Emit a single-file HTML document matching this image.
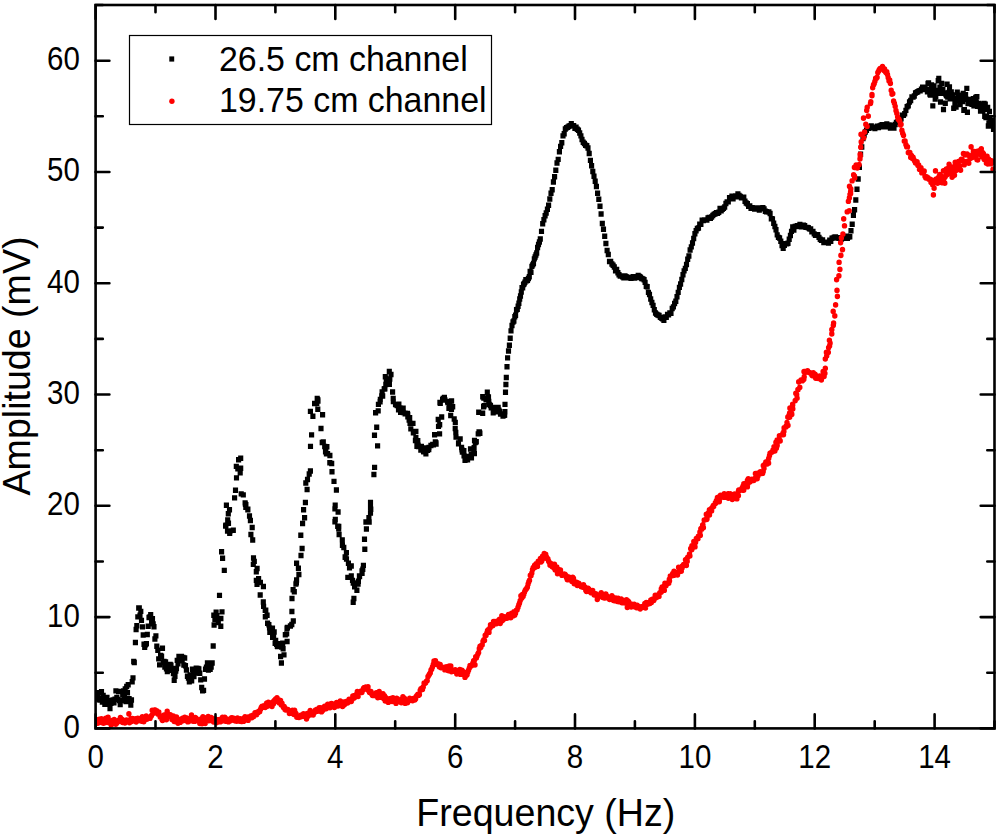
<!DOCTYPE html>
<html><head><meta charset="utf-8"><style>
html,body{margin:0;padding:0;background:#fff;}
body{width:1000px;height:838px;overflow:hidden;}
svg{display:block;font-family:"Liberation Sans",sans-serif;}
</style></head><body>
<svg width="1000" height="838" viewBox="0 0 1000 838">
<rect x="0" y="0" width="1000" height="838" fill="#fff"/>
<clipPath id="c"><rect x="95.6" y="5" width="898.9" height="723.4"/></clipPath>
<g clip-path="url(#c)">
<g fill="none" stroke="#000" stroke-width="5.15" stroke-linecap="square"><path d="M96.5 697.9v.3M97.3 696.7v.3M98.2 692.6v.3M99.0 699.1v.3M99.8 699.8v.3M100.7 698.4v.3M101.5 691.5v.3M102.3 701.8v.3M103.2 695.4v.3M104.0 700.5v.3M104.8 704.0v.3M105.5 703.8v.3M106.2 702.0v.3M107.0 697.3v.3M107.8 703.5v.3M108.5 700.5v.3M109.2 703.0v.3M110.0 708.3v.3M111.0 703.2v.3M111.9 701.9v.3M112.9 699.8v.3M114.0 702.5v.3M115.0 699.0v.3M115.9 690.7v.3M116.8 697.4v.3M117.7 699.2v.3M118.6 691.3v.3M119.4 700.4v.3M120.2 704.3v.3M121.0 700.3v.3M121.8 700.4v.3M122.7 694.6v.3M123.6 690.9v.3M124.4 697.7v.3M125.2 688.8v.3M126.0 701.3v.3M126.7 686.3v.3M127.5 692.5v.3M128.2 684.6v.3M129.1 698.5v.3M130.0 700.8v.3M130.8 704.9v.3M131.5 699.8v.3M132.2 681.6v.3M133.0 677.7v.3M133.7 661.4v.3M134.3 662.4v.3M135.4 642.3v.3M136.1 629.4v.3M136.8 625.5v.3M137.8 616.7v.3M138.7 607.9v.3M139.3 607.7v.3M140.0 615.0v.3M140.8 611.2v.3M141.5 620.2v.3M142.5 626.7v.3M143.2 634.9v.3M144.0 644.1v.3M144.7 647.1v.3M145.4 644.5v.3M146.4 643.5v.3M147.3 634.4v.3M148.2 626.1v.3M149.0 617.3v.3M149.8 616.8v.3M150.7 614.6v.3M151.6 622.1v.3M152.5 618.6v.3M153.2 623.7v.3M154.0 626.5v.3M154.9 638.8v.3M155.9 635.7v.3M156.8 646.0v.3M157.8 650.1v.3M158.7 658.7v.3M159.6 664.7v.3M160.6 655.4v.3M161.6 656.0v.3M162.5 648.1v.3M163.3 661.9v.3M164.1 661.4v.3M164.8 666.8v.3M165.6 661.8v.3M166.4 668.5v.3M167.3 671.4v.3M168.3 670.0v.3M169.2 667.3v.3M170.2 664.4v.3M171.0 665.0v.3M171.8 669.4v.3M172.6 668.4v.3M173.4 673.4v.3M174.2 680.1v.3M175.0 676.2v.3M175.8 670.9v.3M176.5 668.3v.3M177.2 660.2v.3M178.0 663.7v.3M178.9 656.3v.3M179.8 660.6v.3M180.7 658.8v.3M181.5 656.2v.3M182.2 660.3v.3M183.0 657.2v.3M183.8 664.8v.3M184.7 657.9v.3M185.5 665.6v.3M186.4 669.9v.3M187.4 676.0v.3M188.4 677.8v.3M189.3 681.6v.3M190.1 674.7v.3M190.9 677.0v.3M191.7 680.6v.3M192.4 669.1v.3M193.2 670.1v.3M194.0 676.3v.3M194.8 672.9v.3M195.5 670.8v.3M196.2 668.0v.3M197.0 670.3v.3M197.9 668.2v.3M198.9 668.9v.3M199.8 673.0v.3M200.7 679.7v.3M201.7 687.3v.3M202.6 690.7v.3M203.6 690.2v.3M204.5 678.8v.3M205.5 669.0v.3M206.4 667.0v.3M207.4 662.8v.3M208.4 669.8v.3M209.3 665.9v.3M210.2 669.1v.3M211.2 666.8v.3M212.2 662.8v.3M213.2 645.8v.3M214.1 624.9v.3M214.9 619.1v.3M216.1 612.1v.3M213.8 615.0v.3M216.6 617.3v.3M216.8 615.5v.3M218.3 622.4v.3M220.8 626.1v.3M220.9 618.3v.3M222.0 611.7v.3M219.5 595.2v.3M224.3 570.2v.3M222.6 558.1v.3M221.6 551.5v.3M227.5 530.8v.3M225.9 525.0v.3M225.6 525.9v.3M227.7 520.2v.3M226.4 505.0v.3M228.3 513.6v.3M227.7 519.8v.3M228.5 523.1v.3M230.0 530.9v.3M229.7 533.0v.3M233.3 530.1v.3M229.5 509.6v.3M234.6 497.7v.3M235.5 490.0v.3M236.5 477.7v.3M237.8 468.6v.3M236.3 466.2v.3M240.7 458.1v.3M238.6 459.6v.3M240.7 468.0v.3M240.2 472.5v.3M243.3 494.7v.3M241.2 493.7v.3M245.1 502.7v.3M245.8 507.2v.3M245.9 504.5v.3M245.4 504.0v.3M247.9 509.0v.3M247.8 509.6v.3M249.5 515.8v.3M250.4 520.4v.3M252.2 527.3v.3M250.9 534.4v.3M252.7 539.8v.3M253.5 557.8v.3M254.3 561.2v.3M253.3 564.2v.3M257.1 568.3v.3M256.3 571.5v.3M256.3 580.2v.3M258.6 578.6v.3M260.4 582.3v.3M257.0 584.2v.3M263.4 586.4v.3M260.2 594.9v.3M263.3 601.8v.3M263.6 606.2v.3M265.2 610.1v.3M265.8 610.1v.3M267.1 615.1v.3M265.3 616.5v.3M267.6 623.1v.3M268.9 624.6v.3M269.5 627.7v.3M272.5 628.1v.3M269.8 632.1v.3M274.2 631.9v.3M272.8 632.9v.3M272.6 637.1v.3M273.6 635.7v.3M275.7 640.3v.3M275.1 643.0v.3M276.6 644.0v.3M276.8 643.8v.3M278.5 644.0v.3M277.6 643.5v.3M277.3 646.1v.3M277.5 646.3v.3M281.6 646.8v.3M281.4 662.8v.3M280.6 656.4v.3M284.0 654.7v.3M283.1 648.5v.3M282.7 643.1v.3M287.1 641.3v.3M286.7 633.7v.3M285.3 634.5v.3M287.0 628.0v.3M287.4 627.4v.3M290.4 625.9v.3M291.8 624.4v.3M293.3 620.8v.3M291.9 611.3v.3M292.0 598.3v.3M294.3 591.5v.3M293.1 589.5v.3M295.9 583.8v.3M296.4 582.6v.3M296.6 579.8v.3M298.9 574.4v.3M298.4 568.1v.3M296.6 563.0v.3M301.0 555.4v.3M302.1 548.3v.3M300.8 535.1v.3M302.6 523.4v.3M304.6 517.5v.3M303.6 509.6v.3M305.4 502.3v.3M307.1 489.4v.3M305.8 482.9v.3M307.5 479.3v.3M309.2 473.9v.3M310.4 470.8v.3M310.5 446.2v.3M311.6 434.7v.3M312.9 416.0v.3M310.4 411.2v.3M314.6 403.4v.3M318.0 400.8v.3M317.5 399.6v.3M317.8 399.5v.3M317.2 398.4v.3M316.8 403.2v.3M317.8 409.0v.3M322.6 414.6v.3M321.0 428.3v.3M322.2 442.4v.3M323.3 441.7v.3M324.7 446.3v.3M326.9 446.5v.3M325.5 451.6v.3M325.8 450.5v.3M326.4 453.5v.3M327.6 453.5v.3M329.9 455.3v.3M329.8 462.6v.3M331.7 463.4v.3M332.0 471.5v.3M334.0 481.2v.3M336.4 489.8v.3M335.2 505.0v.3M334.9 508.7v.3M338.1 511.8v.3M334.9 521.5v.3M335.3 519.3v.3M337.7 526.0v.3M338.8 526.4v.3M338.7 528.7v.3M339.1 534.4v.3M342.3 539.7v.3M342.4 545.1v.3M343.8 547.3v.3M346.4 552.5v.3M345.1 556.8v.3M345.2 557.2v.3M346.5 558.8v.3M348.4 563.1v.3M351.3 565.9v.3M349.5 567.7v.3M347.8 577.2v.3M351.3 575.8v.3M352.5 580.2v.3M353.2 582.9v.3M354.6 586.7v.3M353.2 602.0v.3M353.9 598.3v.3M356.9 590.0v.3M357.7 583.9v.3M358.1 583.8v.3M358.4 581.1v.3M359.4 575.7v.3M359.6 576.3v.3M362.1 573.1v.3M362.8 569.1v.3M362.0 570.7v.3M363.4 565.2v.3M364.8 549.0v.3M364.5 539.1v.3M366.4 528.8v.3M369.2 521.8v.3M365.9 521.9v.3M368.9 517.5v.3M370.5 512.9v.3M370.5 507.0v.3M370.8 509.0v.3M370.5 502.2v.3M373.9 474.4v.3M374.6 467.2v.3M377.6 445.7v.3M374.5 435.0v.3M376.7 427.1v.3M375.6 412.6v.3M378.2 410.7v.3M378.4 404.2v.3M380.1 401.5v.3M380.3 399.2v.3M382.7 395.8v.3M381.7 395.7v.3M382.1 391.8v.3M384.9 388.6v.3M384.2 388.9v.3M385.8 384.3v.3M386.3 380.1v.3M387.6 379.4v.3M385.3 376.6v.3M389.3 371.4v.3M391.0 374.4v.3M389.8 378.8v.3M389.4 384.0v.3M392.6 391.8v.3M393.2 398.2v.3M393.3 401.3v.3M397.2 405.3v.3M398.9 404.1v.3M396.6 404.6v.3M398.7 406.3v.3M395.5 404.4v.3M400.0 407.7v.3M403.2 408.1v.3M400.9 408.3v.3M401.9 410.2v.3M400.6 412.2v.3M398.5 409.7v.3M403.3 412.4v.3M407.4 413.3v.3M405.1 413.0v.3M405.1 413.5v.3M407.8 414.4v.3M407.8 416.7v.3M409.7 417.6v.3M409.1 419.8v.3M410.0 423.1v.3M413.0 423.2v.3M410.8 428.7v.3M413.3 432.7v.3M415.9 431.4v.3M415.9 437.5v.3M415.4 440.3v.3M417.8 440.5v.3M416.9 443.8v.3M418.2 445.1v.3M418.4 446.4v.3M416.9 446.1v.3M421.4 446.3v.3M420.8 449.9v.3M424.1 447.9v.3M423.8 448.0v.3M423.7 451.6v.3M423.5 451.2v.3M425.1 450.0v.3M427.5 450.2v.3M425.9 453.5v.3M428.2 448.4v.3M429.0 447.2v.3M428.8 449.4v.3M428.0 449.0v.3M428.8 449.0v.3M430.9 445.4v.3M433.5 444.7v.3M432.7 444.3v.3M436.1 443.8v.3M435.3 441.8v.3M435.9 442.5v.3M439.6 433.7v.3M434.6 434.6v.3M438.5 426.2v.3M439.7 424.6v.3M438.2 419.4v.3M441.7 416.8v.3M440.3 403.0v.3M439.9 402.3v.3M442.6 399.5v.3M443.1 398.3v.3M444.4 397.3v.3M444.9 399.9v.3M447.6 401.2v.3M449.7 404.2v.3M447.8 402.3v.3M451.6 400.8v.3M449.9 404.8v.3M448.9 408.0v.3M451.5 409.1v.3M452.7 406.6v.3M450.7 415.4v.3M454.2 418.8v.3M455.3 422.2v.3M455.2 428.3v.3M455.8 432.4v.3M456.0 436.9v.3M460.2 438.8v.3M458.5 442.9v.3M458.5 443.5v.3M461.6 447.4v.3M461.9 449.6v.3M463.9 450.6v.3M462.3 451.8v.3M464.0 455.7v.3M464.1 455.6v.3M466.5 457.4v.3M465.0 460.2v.3M467.6 459.5v.3M469.2 456.4v.3M468.6 456.8v.3M471.5 457.7v.3M471.2 454.5v.3M474.4 453.4v.3M473.8 450.9v.3M474.1 447.5v.3M470.5 448.9v.3M475.3 442.3v.3M474.5 440.4v.3M476.3 441.6v.3M478.2 433.7v.3M479.4 431.8v.3M479.0 431.8v.3M479.9 433.0v.3M478.7 412.0v.3M482.7 413.0v.3M483.6 406.6v.3M484.1 405.5v.3M483.8 397.9v.3M486.0 399.7v.3M482.7 396.5v.3M487.3 392.1v.3M486.4 398.6v.3M488.5 396.7v.3M488.8 401.3v.3M489.3 404.4v.3M490.5 405.4v.3M491.2 407.6v.3M494.4 407.2v.3M493.2 412.6v.3M496.0 411.7v.3M495.3 409.0v.3M496.9 410.6v.3M494.3 408.4v.3M498.2 410.1v.3M498.2 407.4v.3M498.9 410.1v.3M499.4 411.2v.3M500.5 413.9v.3M503.0 415.8v.3M504.1 415.2v.3M504.7 414.9v.3M504.9 411.6v.3M505.0 404.2v.3M505.5 392.0v.3M505.9 384.3v.3M506.3 377.4v.3M507.0 366.5v.3M507.6 357.7v.3M508.5 350.8v.3M509.4 345.1v.3M510.2 338.0v.3M511.0 330.7v.3M512.0 325.3v.3M513.0 321.9v.3M513.9 320.9v.3M514.8 316.5v.3M515.6 315.1v.3M516.5 309.6v.3M517.3 309.2v.3M518.1 306.0v.3M518.9 303.1v.3M519.7 298.8v.3M520.5 295.8v.3M521.3 291.9v.3M522.0 287.5v.3M522.7 287.5v.3M523.5 284.4v.3M524.2 283.6v.3M524.9 282.0v.3M525.8 279.5v.3M526.6 280.6v.3M527.5 280.2v.3M528.4 278.3v.3M529.3 276.6v.3M530.1 271.2v.3M531.0 272.1v.3M531.9 266.2v.3M532.7 264.7v.3M533.5 263.3v.3M534.3 258.7v.3M535.1 256.8v.3M535.9 254.9v.3M536.7 252.8v.3M537.6 247.3v.3M538.5 244.3v.3M539.4 241.8v.3M540.3 238.8v.3M541.5 231.2v.3M542.7 223.6v.3M543.9 219.6v.3M545.1 215.5v.3M546.2 212.8v.3M547.4 209.1v.3M548.6 205.0v.3M549.8 198.8v.3M551.0 193.0v.3M552.2 189.6v.3M553.4 181.8v.3M554.6 176.5v.3M555.8 170.1v.3M557.0 162.9v.3M558.2 159.2v.3M559.4 151.6v.3M560.6 146.2v.3M561.8 142.6v.3M563.0 135.7v.3M564.2 133.5v.3M565.3 128.8v.3M566.5 127.6v.3M567.7 127.0v.3M568.9 126.0v.3M570.1 125.6v.3M571.3 123.6v.3M572.5 125.5v.3M573.7 125.5v.3M574.9 128.1v.3M576.1 127.1v.3M577.3 129.0v.3M578.5 130.0v.3M579.7 132.8v.3M580.9 135.7v.3M582.0 139.3v.3M583.2 142.1v.3M584.4 143.4v.3M585.6 145.0v.3M586.8 145.5v.3M588.0 147.8v.3M589.2 153.4v.3M590.4 160.2v.3M591.6 165.6v.3M592.8 171.4v.3M594.0 176.1v.3M595.2 181.0v.3M596.4 186.3v.3M597.6 193.1v.3M598.8 199.1v.3M600.0 206.0v.3M601.1 213.9v.3M602.3 223.4v.3M603.5 229.0v.3M604.7 236.0v.3M605.9 243.3v.3M607.1 250.4v.3M608.3 254.3v.3M609.5 261.4v.3M610.7 261.4v.3M611.9 263.8v.3M613.1 265.1v.3M614.3 266.9v.3M615.5 270.5v.3M616.7 269.4v.3M617.9 272.5v.3M619.0 274.6v.3M620.2 275.9v.3M621.4 275.7v.3M622.6 276.6v.3M623.8 277.6v.3M625.0 275.7v.3M626.2 276.5v.3M627.4 277.6v.3M628.6 277.5v.3M629.8 277.3v.3M631.0 278.1v.3M632.2 277.0v.3M633.4 276.5v.3M634.6 277.9v.3M635.8 277.4v.3M637.0 277.4v.3M638.2 275.4v.3M639.4 276.4v.3M640.5 277.0v.3M641.7 278.3v.3M642.9 278.7v.3M644.1 279.5v.3M645.1 282.2v.3M646.2 286.2v.3M647.2 286.6v.3M648.4 292.2v.3M649.5 294.4v.3M650.7 298.8v.3M651.9 302.4v.3M653.1 305.2v.3M654.3 309.5v.3M655.5 312.9v.3M656.7 314.0v.3M657.9 314.8v.3M659.1 315.4v.3M660.3 317.2v.3M661.5 317.9v.3M662.7 318.7v.3M663.9 320.2v.3M665.1 316.8v.3M666.3 317.1v.3M667.5 314.3v.3M668.6 314.6v.3M669.8 312.9v.3M671.0 313.1v.3M672.2 308.4v.3M673.4 306.7v.3M674.6 303.4v.3M675.8 301.0v.3M677.0 296.6v.3M678.2 292.2v.3M679.4 287.2v.3M680.6 283.8v.3M681.8 279.4v.3M683.0 274.6v.3M684.1 270.7v.3M685.3 268.2v.3M686.5 264.4v.3M687.7 259.1v.3M688.9 255.8v.3M690.1 249.9v.3M691.3 246.7v.3M692.5 242.9v.3M693.7 238.4v.3M694.9 233.5v.3M696.1 230.6v.3M697.3 228.4v.3M698.5 227.9v.3M699.7 224.0v.3M700.9 224.1v.3M702.1 220.1v.3M703.3 220.3v.3M704.5 219.9v.3M705.7 219.9v.3M706.9 219.9v.3M708.0 217.8v.3M709.2 217.4v.3M710.4 218.0v.3M711.6 216.9v.3M712.8 215.4v.3M714.0 214.2v.3M715.2 213.6v.3M716.4 212.5v.3M717.6 213.2v.3M718.8 212.0v.3M720.0 208.2v.3M721.2 210.6v.3M722.3 209.1v.3M723.5 208.1v.3M724.7 206.9v.3M725.9 203.4v.3M727.1 201.7v.3M728.3 201.7v.3M729.5 197.5v.3M730.7 197.9v.3M731.9 196.0v.3M733.1 198.6v.3M734.3 196.2v.3M735.5 195.8v.3M736.7 196.5v.3M737.9 193.9v.3M739.1 195.2v.3M740.3 196.3v.3M741.4 197.6v.3M742.6 197.4v.3M743.8 197.1v.3M745.0 201.0v.3M746.2 202.8v.3M747.4 203.6v.3M748.6 206.0v.3M749.8 205.8v.3M751.0 208.1v.3M752.2 207.6v.3M753.4 207.9v.3M754.6 208.8v.3M755.8 208.8v.3M757.0 207.9v.3M758.1 207.8v.3M759.3 209.8v.3M760.5 208.2v.3M761.7 208.0v.3M762.9 207.6v.3M764.1 208.7v.3M765.3 211.1v.3M766.5 211.5v.3M767.7 211.7v.3M768.9 211.8v.3M770.1 213.4v.3M771.3 218.5v.3M772.5 218.7v.3M773.7 223.0v.3M774.9 226.4v.3M776.0 229.5v.3M777.2 234.7v.3M778.4 237.2v.3M779.6 237.9v.3M780.8 241.1v.3M782.0 245.3v.3M783.2 248.2v.3M784.4 245.1v.3M785.6 243.6v.3M786.8 243.5v.3M788.0 243.0v.3M789.2 239.1v.3M790.4 235.3v.3M791.5 231.2v.3M792.7 226.9v.3M793.9 229.8v.3M795.1 226.3v.3M796.3 226.0v.3M797.5 225.6v.3M798.7 226.0v.3M799.9 224.2v.3M801.1 226.7v.3M802.3 225.0v.3M803.5 225.0v.3M804.7 225.6v.3M805.9 227.2v.3M807.1 227.2v.3M808.3 227.5v.3M809.5 228.7v.3M810.7 228.9v.3M811.8 231.6v.3M813.0 231.4v.3M814.2 233.7v.3M815.4 235.0v.3M816.6 235.0v.3M817.8 234.5v.3M819.0 237.2v.3M820.2 239.0v.3M821.4 240.2v.3M822.6 239.7v.3M823.8 242.3v.3M825.0 242.0v.3M826.1 242.1v.3M827.3 242.1v.3M828.5 242.8v.3M829.7 240.0v.3M830.8 241.0v.3M832.0 238.1v.3M833.1 237.7v.3M834.3 237.0v.3M835.5 236.9v.3M836.7 237.6v.3M837.9 237.8v.3M839.1 238.1v.3M840.3 237.5v.3M841.5 238.8v.3M842.7 237.6v.3M843.9 238.0v.3M845.1 237.5v.3M846.3 236.1v.3M847.4 238.1v.3M848.6 236.9v.3M849.8 236.5v.3M851.0 230.5v.3M852.2 224.1v.3M853.4 215.1v.3M854.6 209.6v.3M855.8 199.9v.3M857.0 189.1v.3M858.2 178.8v.3M859.4 167.0v.3M860.6 154.1v.3M861.8 146.8v.3M863.0 138.3v.3M864.2 134.9v.3M865.3 131.8v.3M866.5 130.1v.3M867.7 128.0v.3M868.9 128.1v.3M870.1 127.0v.3M871.3 125.7v.3M872.5 127.4v.3M873.7 127.2v.3M874.9 128.3v.3M876.1 127.0v.3M877.3 126.1v.3M878.5 127.4v.3M879.7 125.9v.3M880.9 125.3v.3M882.1 124.6v.3M883.2 126.6v.3M884.4 124.6v.3M885.6 124.6v.3M886.8 123.9v.3M888.0 126.7v.3M889.2 124.8v.3M890.4 127.9v.3M891.6 125.4v.3M892.8 125.4v.3M894.0 127.9v.3M895.2 124.4v.3M896.4 122.2v.3M897.6 121.7v.3M898.8 119.9v.3M900.0 119.9v.3M901.1 118.6v.3M902.3 115.0v.3M903.5 115.0v.3M904.7 113.5v.3M905.9 110.2v.3M907.1 106.5v.3M908.3 105.7v.3M909.5 101.9v.3M910.7 100.3v.3M911.9 96.9v.3M913.1 96.8v.3M914.3 95.8v.3M915.5 92.9v.3M916.7 92.2v.3M917.8 91.6v.3M919.0 90.7v.3M920.2 90.6v.3M921.4 89.1v.3M922.6 87.1v.3M923.8 89.4v.3M925.0 87.1v.3M926.2 89.4v.3M927.4 91.5v.3M928.0 83.4v.3M928.6 82.8v.3M929.2 89.3v.3M929.8 93.8v.3M930.4 94.8v.3M931.0 89.6v.3M931.6 84.9v.3M932.2 88.1v.3M932.8 105.7v.3M933.4 93.7v.3M934.0 85.8v.3M934.6 90.9v.3M935.2 98.9v.3M935.8 96.2v.3M936.4 90.4v.3M937.0 91.7v.3M937.6 92.3v.3M938.2 80.6v.3M938.8 78.3v.3M939.4 93.0v.3M939.9 87.0v.3M940.5 101.9v.3M941.1 91.6v.3M941.7 83.4v.3M942.3 89.6v.3M942.9 89.4v.3M943.5 109.3v.3M944.1 93.1v.3M944.7 92.8v.3M945.3 103.0v.3M945.9 94.3v.3M946.5 95.6v.3M947.1 84.1v.3M947.7 96.9v.3M948.3 94.6v.3M948.9 92.3v.3M949.5 86.8v.3M950.1 98.6v.3M950.7 94.8v.3M951.3 91.8v.3M951.9 95.5v.3M952.5 95.1v.3M953.1 94.9v.3M953.7 108.1v.3M954.3 98.4v.3M954.9 103.9v.3M955.5 100.1v.3M956.1 106.8v.3M956.7 100.9v.3M957.3 92.0v.3M957.9 99.7v.3M958.5 95.0v.3M959.0 97.6v.3M959.6 95.8v.3M960.2 104.4v.3M960.8 97.1v.3M961.4 100.3v.3M962.0 100.7v.3M962.6 101.4v.3M963.2 93.4v.3M963.8 110.0v.3M964.4 109.6v.3M965.0 97.0v.3M965.6 94.5v.3M966.2 99.0v.3M966.8 88.2v.3M967.4 112.0v.3M968.0 103.3v.3M968.5 101.3v.3M969.1 99.2v.3M969.7 101.0v.3M970.3 102.0v.3M970.9 100.6v.3M971.5 103.9v.3M972.1 103.0v.3M972.7 104.1v.3M973.3 98.5v.3M973.9 105.5v.3M974.5 100.9v.3M975.1 104.2v.3M975.7 97.4v.3M976.3 102.2v.3M976.9 96.5v.3M977.5 106.1v.3M978.1 104.3v.3M978.7 103.4v.3M979.3 104.0v.3M979.9 106.4v.3M980.5 110.9v.3M981.1 104.3v.3M981.7 110.8v.3M982.3 108.9v.3M982.9 110.8v.3M983.5 105.4v.3M984.1 103.4v.3M984.7 116.0v.3M985.3 104.0v.3M985.9 117.4v.3M986.5 116.4v.3M987.1 109.1v.3M987.7 107.4v.3M988.3 125.9v.3M988.9 123.0v.3M989.4 111.4v.3M990.0 118.4v.3M990.6 124.7v.3M991.2 122.1v.3M991.8 121.2v.3M992.3 123.9v.3M992.9 120.5v.3M993.5 129.2v.3"/></g>
<g fill="none" stroke="#f00" stroke-width="5.4" stroke-linecap="round"><path d="M96.3 719.4v.3M97.0 720.9v.3M97.8 722.9v.3M98.5 722.0v.3M99.2 719.3v.3M99.9 721.1v.3M100.7 720.5v.3M101.4 718.6v.3M102.1 722.5v.3M102.8 721.3v.3M103.5 723.0v.3M104.3 720.1v.3M105.0 722.4v.3M105.8 718.3v.3M106.5 721.6v.3M107.3 721.4v.3M108.1 717.1v.3M108.8 722.5v.3M109.6 722.5v.3M110.4 723.1v.3M111.2 724.8v.3M111.9 721.2v.3M112.7 720.2v.3M113.5 720.6v.3M114.2 719.4v.3M115.0 722.0v.3M115.8 723.9v.3M116.5 723.2v.3M117.3 722.3v.3M118.1 721.4v.3M118.8 720.3v.3M119.6 720.5v.3M120.4 717.5v.3M121.1 720.1v.3M121.9 719.3v.3M122.6 722.2v.3M123.4 720.2v.3M124.2 722.5v.3M124.9 722.8v.3M125.7 720.7v.3M126.5 720.0v.3M127.2 721.5v.3M128.0 720.4v.3M128.8 720.5v.3M129.5 722.4v.3M130.2 721.8v.3M131.0 718.5v.3M131.8 721.3v.3M132.5 718.5v.3M133.2 719.0v.3M134.0 719.9v.3M134.8 720.6v.3M135.5 718.6v.3M136.2 721.7v.3M137.0 720.9v.3M137.8 718.3v.3M138.5 718.9v.3M139.2 719.1v.3M140.0 720.2v.3M140.8 720.8v.3M141.5 720.9v.3M142.3 716.8v.3M143.1 720.0v.3M143.8 721.4v.3M144.6 719.5v.3M145.4 717.1v.3M146.2 716.0v.3M146.9 719.0v.3M147.7 717.7v.3M148.5 717.8v.3M149.2 718.1v.3M150.0 718.1v.3M150.8 716.4v.3M151.5 715.5v.3M152.2 710.1v.3M153.0 711.7v.3M153.8 712.9v.3M154.5 709.9v.3M155.2 709.9v.3M155.9 711.8v.3M156.7 710.8v.3M157.4 711.8v.3M158.1 714.0v.3M158.8 711.9v.3M159.5 715.2v.3M160.3 716.9v.3M161.0 716.1v.3M161.8 718.9v.3M162.5 720.3v.3M163.3 719.4v.3M164.1 714.9v.3M164.9 718.2v.3M165.7 715.7v.3M166.4 719.5v.3M167.2 711.2v.3M168.0 714.5v.3M168.8 715.5v.3M169.6 715.3v.3M170.4 714.8v.3M171.1 716.7v.3M171.9 719.3v.3M172.7 716.8v.3M173.4 716.0v.3M174.2 721.2v.3M175.0 717.8v.3M175.8 721.3v.3M176.5 717.0v.3M177.2 720.6v.3M178.0 722.9v.3M178.8 719.2v.3M179.5 721.9v.3M180.2 722.1v.3M181.0 721.3v.3M181.8 720.8v.3M182.5 718.2v.3M183.2 720.5v.3M184.0 718.7v.3M184.8 717.1v.3M185.5 719.9v.3M186.2 717.8v.3M187.0 719.4v.3M187.8 721.6v.3M188.5 721.5v.3M189.2 719.8v.3M190.0 718.3v.3M190.8 720.1v.3M191.5 715.0v.3M192.3 718.9v.3M193.0 721.0v.3M193.8 720.4v.3M194.5 721.1v.3M195.3 717.4v.3M196.1 718.2v.3M196.8 720.6v.3M197.6 720.5v.3M198.3 720.0v.3M199.1 721.0v.3M199.8 723.2v.3M200.6 719.1v.3M201.4 718.8v.3M202.1 723.5v.3M202.9 716.8v.3M203.6 718.3v.3M204.4 720.4v.3M205.2 723.2v.3M205.9 719.0v.3M206.7 720.9v.3M207.4 717.1v.3M208.2 716.4v.3M208.9 720.4v.3M209.7 720.1v.3M210.5 719.2v.3M211.2 717.5v.3M212.0 720.4v.3M212.7 719.7v.3M213.5 721.7v.3M214.2 719.6v.3M215.0 718.8v.3M215.8 719.8v.3M216.5 722.4v.3M217.2 719.6v.3M218.0 720.7v.3M218.8 720.3v.3M219.5 719.4v.3M220.2 721.6v.3M221.0 721.2v.3M221.8 720.6v.3M222.5 717.2v.3M223.2 720.4v.3M224.0 718.5v.3M224.8 717.1v.3M225.5 721.0v.3M226.2 718.8v.3M227.0 719.1v.3M227.8 719.6v.3M228.5 721.6v.3M229.2 719.1v.3M230.0 719.0v.3M230.8 720.4v.3M231.5 717.7v.3M232.2 719.3v.3M233.0 717.9v.3M233.8 718.3v.3M234.5 719.0v.3M235.2 720.8v.3M236.0 718.4v.3M236.8 720.9v.3M237.5 718.0v.3M238.2 719.0v.3M239.0 718.7v.3M239.8 720.9v.3M240.5 718.7v.3M241.2 721.3v.3M242.0 721.2v.3M242.8 719.7v.3M243.5 721.1v.3M244.2 717.9v.3M245.0 716.6v.3M245.8 718.0v.3M246.5 718.9v.3M247.3 717.1v.3M248.1 720.1v.3M248.8 716.9v.3M249.6 717.3v.3M250.4 717.2v.3M251.2 715.8v.3M251.9 717.4v.3M252.7 715.1v.3M253.5 716.5v.3M254.2 714.9v.3M255.0 712.6v.3M255.8 713.9v.3M256.6 714.4v.3M257.4 711.9v.3M258.1 712.4v.3M258.9 711.3v.3M259.7 711.4v.3M260.5 709.2v.3M261.3 707.3v.3M262.1 706.3v.3M262.9 706.4v.3M263.6 705.8v.3M264.4 707.1v.3M265.2 707.3v.3M265.9 704.4v.3M266.7 702.9v.3M267.5 706.0v.3M268.3 702.2v.3M269.0 704.9v.3M269.8 704.4v.3M270.5 703.8v.3M271.3 704.7v.3M272.0 706.2v.3M272.7 701.9v.3M273.4 703.6v.3M274.2 700.4v.3M274.9 700.1v.3M275.6 698.9v.3M276.3 698.7v.3M277.0 697.6v.3M277.7 701.4v.3M278.4 699.8v.3M279.2 702.8v.3M279.9 700.7v.3M280.6 700.4v.3M281.3 704.8v.3M282.0 703.1v.3M282.7 705.7v.3M283.4 707.3v.3M284.2 706.5v.3M284.9 709.3v.3M285.6 709.8v.3M286.3 709.1v.3M287.1 709.2v.3M287.9 709.5v.3M288.6 710.5v.3M289.4 713.2v.3M290.2 712.9v.3M290.9 712.9v.3M291.7 712.4v.3M292.5 710.2v.3M293.2 711.5v.3M293.9 714.2v.3M294.6 710.1v.3M295.4 712.6v.3M296.1 713.8v.3M296.8 717.0v.3M297.5 715.6v.3M298.2 715.9v.3M299.0 717.2v.3M299.8 716.6v.3M300.5 716.6v.3M301.2 715.0v.3M302.0 716.3v.3M302.8 714.4v.3M303.5 713.8v.3M304.2 716.1v.3M305.0 714.1v.3M305.8 717.0v.3M306.5 718.8v.3M307.2 713.5v.3M308.0 715.9v.3M308.8 714.3v.3M309.5 714.3v.3M310.2 710.4v.3M311.0 714.5v.3M311.8 712.9v.3M312.5 713.6v.3M313.2 714.8v.3M314.0 713.0v.3M314.8 711.7v.3M315.5 710.0v.3M316.2 710.2v.3M317.0 709.1v.3M317.8 710.9v.3M318.5 709.2v.3M319.2 707.8v.3M320.0 708.9v.3M320.8 707.6v.3M321.5 711.6v.3M322.3 710.8v.3M323.1 709.8v.3M323.8 707.6v.3M324.6 706.1v.3M325.4 706.3v.3M326.2 708.4v.3M326.9 705.6v.3M327.7 704.3v.3M328.5 706.9v.3M329.2 704.8v.3M330.0 707.4v.3M330.7 703.8v.3M331.5 703.4v.3M332.2 703.6v.3M332.9 705.7v.3M333.7 706.4v.3M334.4 707.2v.3M335.1 704.6v.3M335.9 703.4v.3M336.6 702.4v.3M337.4 704.7v.3M338.1 705.7v.3M338.8 703.6v.3M339.6 703.5v.3M340.3 701.0v.3M341.0 701.4v.3M341.8 703.8v.3M342.5 706.2v.3M343.2 705.6v.3M344.0 702.0v.3M344.7 704.3v.3M345.4 702.0v.3M346.2 701.5v.3M346.9 701.1v.3M347.6 702.7v.3M348.4 700.4v.3M349.1 699.2v.3M349.9 700.9v.3M350.6 700.2v.3M351.3 701.2v.3M352.1 699.2v.3M352.8 696.0v.3M353.5 695.8v.3M354.3 697.7v.3M355.0 695.8v.3M355.8 695.4v.3M356.5 694.2v.3M357.3 691.4v.3M358.1 696.2v.3M358.8 692.2v.3M359.6 692.7v.3M360.4 692.5v.3M361.2 691.0v.3M361.9 692.3v.3M362.7 690.2v.3M363.5 688.1v.3M364.2 687.4v.3M365.0 688.8v.3M365.8 686.9v.3M366.5 688.9v.3M367.2 688.7v.3M368.0 686.6v.3M368.8 690.6v.3M369.5 692.3v.3M370.2 691.1v.3M371.0 691.5v.3M371.8 693.9v.3M372.5 695.2v.3M373.2 695.2v.3M374.0 694.9v.3M374.8 694.0v.3M375.5 695.4v.3M376.2 692.8v.3M377.0 694.0v.3M377.8 697.5v.3M378.5 695.5v.3M379.2 691.4v.3M380.0 697.0v.3M380.8 695.9v.3M381.5 696.6v.3M382.2 697.1v.3M383.0 693.7v.3M383.8 698.4v.3M384.5 695.8v.3M385.2 700.7v.3M386.0 697.6v.3M386.8 698.6v.3M387.5 700.8v.3M388.3 702.1v.3M389.0 698.9v.3M389.8 699.7v.3M390.6 698.9v.3M391.3 698.3v.3M392.1 701.2v.3M392.9 697.7v.3M393.7 698.3v.3M394.4 699.9v.3M395.2 699.3v.3M396.0 703.1v.3M396.7 698.2v.3M397.5 698.6v.3M398.3 700.3v.3M399.0 699.7v.3M399.8 700.0v.3M400.6 701.8v.3M401.3 702.5v.3M402.1 701.7v.3M402.9 696.8v.3M403.7 699.4v.3M404.4 698.3v.3M405.2 703.1v.3M406.0 702.6v.3M406.7 701.7v.3M407.5 702.5v.3M408.2 701.2v.3M409.0 700.2v.3M409.7 698.2v.3M410.4 699.7v.3M411.2 699.6v.3M411.9 699.1v.3M412.6 700.4v.3M413.4 698.4v.3M414.1 699.2v.3M414.8 699.7v.3M415.6 698.7v.3M416.3 696.1v.3M417.1 695.1v.3M417.9 694.2v.3M418.6 695.1v.3M419.4 694.5v.3M420.2 690.2v.3M420.9 688.8v.3M421.7 688.3v.3M422.5 689.2v.3M423.3 686.6v.3M424.1 682.9v.3M424.9 683.3v.3M425.6 682.8v.3M426.4 681.2v.3M427.2 680.5v.3M428.0 676.5v.3M428.8 675.1v.3M429.5 674.0v.3M430.3 672.8v.3M431.0 670.0v.3M431.8 668.6v.3M432.5 666.8v.3M433.3 664.2v.3M434.0 660.9v.3M434.8 664.0v.3M435.5 660.8v.3M436.3 662.6v.3M437.1 664.1v.3M437.9 663.6v.3M438.6 665.1v.3M439.4 666.6v.3M440.2 664.5v.3M440.9 667.5v.3M441.7 667.3v.3M442.5 667.1v.3M443.2 667.7v.3M444.0 667.8v.3M444.8 669.6v.3M445.5 666.9v.3M446.2 668.6v.3M447.0 666.6v.3M447.8 670.3v.3M448.5 670.5v.3M449.2 665.9v.3M450.0 670.6v.3M450.8 666.0v.3M451.5 671.5v.3M452.2 670.0v.3M453.0 670.0v.3M453.8 670.6v.3M454.5 671.0v.3M455.2 669.7v.3M456.0 672.0v.3M456.8 673.7v.3M457.5 673.2v.3M458.2 672.5v.3M459.0 672.3v.3M459.8 669.4v.3M460.5 674.1v.3M461.2 671.6v.3M462.0 670.2v.3M462.8 674.1v.3M463.5 671.6v.3M464.2 674.2v.3M465.0 677.1v.3M465.7 672.6v.3M466.4 675.2v.3M467.1 674.5v.3M467.9 671.6v.3M468.6 669.9v.3M469.3 668.0v.3M470.0 665.4v.3M470.7 665.6v.3M471.4 665.6v.3M472.1 664.4v.3M472.9 662.9v.3M473.6 660.8v.3M474.3 660.2v.3M475.0 664.7v.3M475.7 656.7v.3M476.4 657.6v.3M477.1 655.6v.3M477.9 653.8v.3M478.6 652.5v.3M479.3 648.4v.3M480.0 646.2v.3M480.8 647.1v.3M481.5 645.3v.3M482.2 644.8v.3M483.0 641.2v.3M483.8 639.8v.3M484.5 640.2v.3M485.2 635.1v.3M486.0 635.2v.3M486.8 633.0v.3M487.5 630.4v.3M488.2 629.7v.3M489.0 632.1v.3M489.8 628.2v.3M490.5 624.6v.3M491.2 626.2v.3M492.0 625.6v.3M492.8 625.5v.3M493.5 621.5v.3M494.2 623.3v.3M495.0 621.5v.3M495.8 622.4v.3M496.5 623.4v.3M497.2 622.0v.3M498.0 620.9v.3M498.8 619.9v.3M499.5 619.1v.3M500.2 623.2v.3M501.0 621.5v.3M501.8 615.8v.3M502.5 620.1v.3M503.2 619.4v.3M504.0 618.7v.3M504.8 616.6v.3M505.5 617.7v.3M506.2 616.6v.3M507.0 618.0v.3M507.8 616.9v.3M508.5 614.4v.3M509.2 614.7v.3M510.0 616.3v.3M510.8 617.4v.3M511.6 613.3v.3M512.4 615.2v.3M513.1 615.6v.3M513.9 611.6v.3M514.7 614.9v.3M515.5 613.1v.3M516.3 610.1v.3M517.1 609.8v.3M518.0 607.2v.3M518.8 604.8v.3M519.5 603.0v.3M520.2 600.5v.3M520.9 595.6v.3M521.7 598.0v.3M522.4 594.5v.3M523.1 596.2v.3M523.8 594.2v.3M524.5 591.9v.3M525.2 590.3v.3M525.9 589.3v.3M526.7 588.3v.3M527.4 586.9v.3M528.1 583.9v.3M528.8 581.8v.3M529.5 580.2v.3M530.3 575.3v.3M531.0 575.4v.3M531.8 572.9v.3M532.5 569.5v.3M533.2 567.5v.3M533.9 567.8v.3M534.6 565.3v.3M535.4 566.9v.3M536.1 563.8v.3M536.8 565.5v.3M537.5 566.1v.3M538.2 561.2v.3M538.9 561.7v.3M539.6 561.2v.3M540.4 558.5v.3M541.1 561.7v.3M541.8 560.8v.3M542.5 556.1v.3M543.3 558.2v.3M544.2 553.4v.3M545.0 554.4v.3M545.7 554.1v.3M546.4 556.7v.3M547.1 558.4v.3M547.9 558.8v.3M548.6 560.9v.3M549.3 562.3v.3M550.0 565.0v.3M550.8 563.5v.3M551.5 563.7v.3M552.2 566.5v.3M553.0 564.4v.3M553.8 567.8v.3M554.5 564.3v.3M555.2 569.7v.3M556.0 568.0v.3M556.8 567.0v.3M557.5 573.4v.3M558.2 569.2v.3M559.0 569.7v.3M559.8 572.2v.3M560.5 570.0v.3M561.2 573.7v.3M562.0 575.1v.3M562.8 574.7v.3M563.5 574.8v.3M564.2 573.9v.3M565.0 574.3v.3M565.8 575.3v.3M566.5 577.4v.3M567.3 579.4v.3M568.1 579.4v.3M568.8 576.9v.3M569.6 577.7v.3M570.4 579.1v.3M571.2 579.3v.3M571.9 581.1v.3M572.7 577.3v.3M573.5 578.3v.3M574.2 583.5v.3M575.0 582.0v.3M575.8 583.1v.3M576.5 582.3v.3M577.3 585.3v.3M578.1 584.5v.3M578.8 583.2v.3M579.6 584.4v.3M580.4 585.5v.3M581.2 586.4v.3M581.9 586.4v.3M582.7 587.0v.3M583.5 584.6v.3M584.2 586.8v.3M585.0 587.0v.3M585.8 590.1v.3M586.5 591.3v.3M587.3 588.5v.3M588.1 588.1v.3M588.8 588.9v.3M589.6 591.5v.3M590.4 591.2v.3M591.2 592.6v.3M591.9 591.4v.3M592.7 590.5v.3M593.5 593.0v.3M594.2 594.7v.3M595.0 593.4v.3M595.8 593.6v.3M596.5 594.6v.3M597.3 599.2v.3M598.1 596.6v.3M598.8 594.7v.3M599.6 595.4v.3M600.4 596.3v.3M601.2 592.7v.3M601.9 594.6v.3M602.7 597.2v.3M603.5 596.3v.3M604.2 597.7v.3M605.0 597.7v.3M605.8 594.0v.3M606.5 595.4v.3M607.3 597.4v.3M608.1 596.9v.3M608.8 597.9v.3M609.6 599.2v.3M610.4 597.9v.3M611.2 597.5v.3M611.9 595.6v.3M612.7 596.9v.3M613.5 600.3v.3M614.2 600.4v.3M615.0 600.1v.3M615.8 598.0v.3M616.5 598.7v.3M617.3 601.3v.3M618.1 598.3v.3M618.8 601.4v.3M619.6 600.8v.3M620.4 601.2v.3M621.2 598.9v.3M621.9 602.5v.3M622.7 602.5v.3M623.5 600.3v.3M624.2 602.6v.3M625.0 602.6v.3M625.8 602.9v.3M626.5 599.7v.3M627.3 607.2v.3M628.1 600.9v.3M628.8 601.9v.3M629.6 604.8v.3M630.4 605.5v.3M631.2 606.7v.3M631.9 604.1v.3M632.7 606.3v.3M633.5 605.1v.3M634.2 604.2v.3M635.0 606.7v.3M635.8 607.0v.3M636.5 607.4v.3M637.2 605.2v.3M638.0 607.6v.3M638.8 607.8v.3M639.5 607.4v.3M640.2 608.7v.3M641.0 606.7v.3M641.8 607.4v.3M642.5 607.0v.3M643.2 606.2v.3M644.0 606.5v.3M644.8 603.4v.3M645.5 607.7v.3M646.2 602.4v.3M647.0 604.3v.3M647.8 603.0v.3M648.5 603.1v.3M649.2 603.4v.3M650.0 603.3v.3M650.8 600.0v.3M651.5 602.2v.3M652.2 599.2v.3M653.0 600.4v.3M653.8 600.2v.3M654.5 598.8v.3M655.2 595.3v.3M656.0 597.4v.3M656.8 596.4v.3M657.5 596.8v.3M658.2 594.8v.3M659.0 596.1v.3M659.8 592.6v.3M661.2 592.0v.3M661.4 590.0v.3M662.1 586.9v.3M661.3 588.6v.3M664.6 586.7v.3M662.8 588.8v.3M664.3 590.1v.3M666.0 585.5v.3M664.9 583.1v.3M668.4 582.5v.3M666.5 583.8v.3M668.8 583.0v.3M669.5 580.6v.3M669.3 579.2v.3M670.3 576.0v.3M672.3 575.5v.3M674.0 573.0v.3M672.7 573.4v.3M674.4 574.9v.3M673.7 572.8v.3M674.0 571.3v.3M677.3 574.1v.3M677.5 574.7v.3M678.5 571.9v.3M678.3 572.3v.3M681.3 570.9v.3M678.6 567.2v.3M681.4 567.3v.3M681.1 569.5v.3M682.1 567.7v.3M682.3 566.0v.3M683.6 564.5v.3M686.4 565.2v.3M685.5 559.6v.3M686.6 560.9v.3M687.2 561.1v.3M686.2 559.3v.3M689.5 554.0v.3M687.7 557.1v.3M689.9 555.8v.3M690.9 548.6v.3M691.8 549.4v.3M690.7 548.4v.3M691.9 545.7v.3M692.2 548.2v.3M695.6 542.3v.3M695.0 546.6v.3M693.8 541.5v.3M696.3 538.4v.3M695.4 541.5v.3M696.9 538.1v.3M698.3 536.2v.3M698.0 538.4v.3M700.3 535.1v.3M699.9 531.9v.3M701.8 528.9v.3M700.8 528.7v.3M701.3 528.2v.3M702.6 525.0v.3M703.4 527.5v.3M702.9 524.6v.3M706.8 519.3v.3M704.2 520.0v.3M707.0 518.6v.3M706.3 514.3v.3M707.0 515.6v.3M709.5 514.7v.3M708.9 512.3v.3M709.4 509.8v.3M711.0 508.6v.3M712.4 507.2v.3M711.6 510.6v.3M713.7 506.1v.3M713.3 505.5v.3M715.3 502.7v.3M715.5 503.3v.3M716.4 500.5v.3M716.3 502.3v.3M719.3 501.5v.3M718.6 497.0v.3M717.4 497.4v.3M720.0 498.3v.3M719.1 498.1v.3M720.5 495.2v.3M720.9 496.8v.3M724.2 493.8v.3M723.1 494.9v.3M723.4 495.3v.3M724.5 496.2v.3M724.4 497.1v.3M728.1 493.8v.3M727.7 496.0v.3M728.3 498.0v.3M727.0 496.2v.3M730.2 493.7v.3M730.6 497.2v.3M728.6 493.8v.3M730.3 494.9v.3M731.2 496.9v.3M732.3 499.3v.3M734.4 496.1v.3M733.4 497.7v.3M736.9 498.6v.3M735.5 494.6v.3M734.6 493.9v.3M737.9 495.7v.3M738.4 495.4v.3M738.7 489.9v.3M738.4 491.1v.3M741.0 489.5v.3M742.9 489.9v.3M739.9 490.3v.3M743.7 490.0v.3M742.1 487.9v.3M742.7 489.9v.3M742.9 486.3v.3M743.8 483.7v.3M747.4 486.6v.3M745.7 483.5v.3M748.1 483.3v.3M747.4 480.3v.3M749.9 481.7v.3M750.4 481.3v.3M748.3 478.6v.3M750.6 480.4v.3M751.9 479.1v.3M752.2 479.4v.3M753.8 480.3v.3M755.1 478.2v.3M755.6 478.4v.3M755.4 473.4v.3M757.2 478.4v.3M758.0 475.7v.3M757.6 473.1v.3M760.2 472.3v.3M761.6 473.2v.3M762.5 472.6v.3M760.3 471.8v.3M762.6 473.1v.3M763.2 471.5v.3M764.0 468.3v.3M763.3 465.5v.3M764.7 464.3v.3M765.8 461.9v.3M768.6 462.9v.3M767.3 463.7v.3M767.8 460.6v.3M768.7 458.3v.3M769.5 455.5v.3M770.7 452.7v.3M770.0 453.3v.3M772.3 451.8v.3M773.0 450.0v.3M774.9 450.7v.3M774.0 446.8v.3M776.4 448.0v.3M776.4 446.3v.3M775.9 442.2v.3M776.9 445.9v.3M777.2 445.2v.3M777.1 440.0v.3M779.6 440.0v.3M780.2 440.7v.3M779.4 435.7v.3M782.5 434.5v.3M783.5 434.4v.3M782.9 433.2v.3M783.9 431.3v.3M786.1 426.8v.3M784.1 427.8v.3M786.1 426.0v.3M788.0 425.2v.3M787.8 417.0v.3M787.0 422.4v.3M789.0 415.3v.3M789.7 417.0v.3M789.6 412.9v.3M791.6 413.0v.3M791.8 414.3v.3M789.9 407.9v.3M792.8 408.7v.3M792.7 404.9v.3M792.6 404.3v.3M795.2 400.5v.3M797.1 397.9v.3M796.7 394.4v.3M795.8 393.1v.3M798.1 389.4v.3M797.9 389.4v.3M799.8 387.3v.3M798.7 381.7v.3M801.0 379.9v.3M802.3 380.6v.3M801.8 380.1v.3M803.8 379.1v.3M804.2 376.7v.3M804.8 372.5v.3M804.0 371.4v.3M806.0 371.1v.3M806.4 371.8v.3M807.6 370.6v.3M806.8 371.3v.3M810.5 372.9v.3M808.8 372.3v.3M812.3 375.4v.3M811.2 373.0v.3M815.1 374.1v.3M813.9 374.2v.3M811.9 375.0v.3M813.3 372.8v.3M815.3 375.5v.3M815.7 378.0v.3M816.7 375.9v.3M819.7 375.9v.3M819.6 376.4v.3M818.2 378.3v.3M819.2 377.6v.3M820.4 377.0v.3M820.5 377.1v.3M821.4 379.8v.3M824.1 376.3v.3M824.1 374.0v.3M824.9 373.1v.3M823.1 371.5v.3M825.3 368.3v.3M825.3 358.8v.3M826.7 355.8v.3M826.4 352.1v.3M828.3 352.1v.3M828.6 347.5v.3M829.6 345.7v.3M830.1 343.0v.3M829.4 340.2v.3M831.8 333.7v.3M831.8 329.5v.3M833.3 325.2v.3M833.6 323.0v.3M834.8 315.8v.3M833.2 311.1v.3M835.6 304.7v.3M837.4 296.2v.3M837.0 290.1v.3M836.6 279.4v.3M838.9 275.7v.3M839.9 269.3v.3M839.1 262.1v.3M840.9 255.3v.3M842.5 249.5v.3M840.6 242.5v.3M841.4 237.6v.3M842.9 233.9v.3M844.5 225.6v.3M843.7 218.8v.3M847.2 211.6v.3M849.2 210.6v.3M848.4 201.1v.3M849.4 197.8v.3M850.0 194.1v.3M850.6 193.5v.3M850.6 191.5v.3M850.8 188.8v.3M849.5 186.1v.3M852.1 180.6v.3M854.7 177.7v.3M854.5 176.0v.3M853.6 174.7v.3M857.3 167.8v.3M854.4 167.3v.3M856.1 164.9v.3M859.1 164.4v.3M860.0 158.8v.3M860.3 155.9v.3M860.1 154.2v.3M860.7 147.0v.3M861.2 141.7v.3M863.8 137.6v.3M861.0 134.2v.3M864.6 131.9v.3M867.1 126.2v.3M865.8 124.3v.3M863.5 118.0v.3M868.3 115.9v.3M866.7 110.2v.3M867.2 107.1v.3M870.5 103.2v.3M870.8 101.6v.3M872.0 95.5v.3M872.0 94.5v.3M872.7 87.5v.3M873.5 84.6v.3M874.2 83.5v.3M874.9 81.1v.3M875.6 78.3v.3M876.3 78.3v.3M877.1 77.2v.3M877.8 72.4v.3M878.5 71.2v.3M879.3 69.4v.3M880.1 68.4v.3M880.9 68.1v.3M881.7 68.6v.3M882.5 66.5v.3M883.2 68.0v.3M883.9 70.3v.3M884.6 69.0v.3M885.4 71.7v.3M886.1 72.5v.3M886.8 71.7v.3M887.5 74.4v.3M888.2 77.5v.3M889.0 80.7v.3M889.7 80.0v.3M890.4 83.3v.3M891.2 90.3v.3M892.0 94.0v.3M892.8 93.5v.3M893.6 101.0v.3M894.4 103.1v.3M895.2 106.2v.3M896.0 110.4v.3M896.8 113.1v.3M897.6 116.8v.3M898.3 119.1v.3M899.0 119.1v.3M899.7 121.0v.3M900.4 124.8v.3M901.1 124.3v.3M901.9 130.3v.3M902.7 133.3v.3M903.5 135.1v.3M904.3 141.0v.3M905.1 140.9v.3M905.9 144.4v.3M906.7 146.6v.3M907.5 146.6v.3M908.3 152.4v.3M909.1 152.5v.3M909.9 152.4v.3M910.7 157.2v.3M911.5 155.5v.3M912.3 158.3v.3M913.1 157.3v.3M913.9 159.4v.3M914.7 161.0v.3M915.5 162.8v.3M916.3 162.0v.3M917.1 161.6v.3M917.9 165.3v.3M918.7 165.0v.3M919.5 169.1v.3M920.2 168.1v.3M921.0 167.8v.3M921.8 172.6v.3M922.6 171.4v.3M923.4 172.6v.3M924.2 170.9v.3M925.0 176.2v.3M925.8 177.8v.3M926.6 176.7v.3M927.4 177.4v.3M928.1 177.7v.3M928.8 178.9v.3M929.6 179.3v.3M930.3 179.2v.3M931.0 182.3v.3M931.8 179.9v.3M932.6 184.5v.3M933.4 194.7v.3M934.1 187.9v.3M934.8 180.6v.3M935.5 170.8v.3M936.2 178.9v.3M936.9 180.1v.3M937.6 182.9v.3M938.3 179.8v.3M939.1 176.2v.3M939.8 174.5v.3M940.5 181.4v.3M941.2 181.2v.3M941.9 182.5v.3M942.7 176.6v.3M943.4 170.8v.3M944.1 178.3v.3M944.8 183.0v.3M945.5 176.2v.3M946.3 169.0v.3M947.0 174.5v.3M947.7 173.0v.3M948.4 168.3v.3M949.1 164.3v.3M949.9 166.4v.3M950.6 172.9v.3M951.3 173.0v.3M952.1 177.0v.3M952.9 168.7v.3M953.7 166.8v.3M954.5 175.0v.3M955.2 162.2v.3M956.0 170.2v.3M956.8 162.8v.3M957.6 167.2v.3M958.4 161.5v.3M959.1 166.4v.3M959.8 165.6v.3M960.6 169.9v.3M961.3 159.3v.3M962.0 159.8v.3M962.7 160.5v.3M963.4 153.5v.3M964.2 164.6v.3M964.9 154.8v.3M965.6 153.9v.3M966.4 161.5v.3M967.2 154.0v.3M968.0 154.9v.3M968.8 163.0v.3M969.5 156.4v.3M970.3 158.3v.3M971.1 146.8v.3M971.9 157.5v.3M972.7 154.5v.3M973.4 151.3v.3M974.1 156.8v.3M974.9 155.5v.3M975.6 157.0v.3M976.3 151.4v.3M977.0 159.5v.3M977.7 159.8v.3M978.5 151.0v.3M979.2 152.6v.3M979.9 154.1v.3M980.6 154.1v.3M981.3 148.6v.3M982.1 156.7v.3M982.8 152.7v.3M983.5 153.7v.3M984.2 159.3v.3M984.9 156.4v.3M985.7 160.1v.3M986.4 162.9v.3M987.1 156.2v.3M987.8 163.8v.3M988.6 158.9v.3M989.3 160.2v.3M990.0 163.1v.3M990.8 163.6v.3M991.5 160.6v.3M992.3 162.4v.3M993.0 169.1v.3M128.9 713.8v.3"/></g>
</g>
<rect x="95.6" y="5" width="898.9" height="723.4" fill="none" stroke="#000" stroke-width="2.6"/>
<path d="M95.6 728.4v-14.0M95.6 5v14.0M155.5 728.4v-7.2M155.5 5v7.2M215.5 728.4v-14.0M215.5 5v14.0M275.4 728.4v-7.2M275.4 5v7.2M335.3 728.4v-14.0M335.3 5v14.0M395.2 728.4v-7.2M395.2 5v7.2M455.2 728.4v-14.0M455.2 5v14.0M515.1 728.4v-7.2M515.1 5v7.2M575.0 728.4v-14.0M575.0 5v14.0M634.9 728.4v-7.2M634.9 5v7.2M694.9 728.4v-14.0M694.9 5v14.0M754.8 728.4v-7.2M754.8 5v7.2M814.7 728.4v-14.0M814.7 5v14.0M874.7 728.4v-7.2M874.7 5v7.2M934.6 728.4v-14.0M934.6 5v14.0M994.5 728.4v-7.2M994.5 5v7.2M95.6 728.4h13.8M994.5 728.4h-13.8M95.6 672.8h7.2M994.5 672.8h-7.2M95.6 617.1h13.8M994.5 617.1h-13.8M95.6 561.5h7.2M994.5 561.5h-7.2M95.6 505.8h13.8M994.5 505.8h-13.8M95.6 450.2h7.2M994.5 450.2h-7.2M95.6 394.5h13.8M994.5 394.5h-13.8M95.6 338.9h7.2M994.5 338.9h-7.2M95.6 283.2h13.8M994.5 283.2h-13.8M95.6 227.6h7.2M994.5 227.6h-7.2M95.6 172.0h13.8M994.5 172.0h-13.8M95.6 116.3h7.2M994.5 116.3h-7.2M95.6 60.7h13.8M994.5 60.7h-13.8M95.6 5.0h7.2M994.5 5.0h-7.2" stroke="#000" stroke-width="2.6" stroke-linecap="round" fill="none"/>
<g font-size="29.5" fill="#000"><text transform="translate(95.6 767.5) scale(1 1.100)" text-anchor="middle">0</text><text transform="translate(215.5 767.5) scale(1 1.100)" text-anchor="middle">2</text><text transform="translate(335.3 767.5) scale(1 1.100)" text-anchor="middle">4</text><text transform="translate(455.2 767.5) scale(1 1.100)" text-anchor="middle">6</text><text transform="translate(575.0 767.5) scale(1 1.100)" text-anchor="middle">8</text><text transform="translate(694.9 767.5) scale(1 1.100)" text-anchor="middle">10</text><text transform="translate(814.7 767.5) scale(1 1.100)" text-anchor="middle">12</text><text transform="translate(934.6 767.5) scale(1 1.100)" text-anchor="middle">14</text><text transform="translate(79.8 737.8) scale(1 1.100)" text-anchor="end">0</text><text transform="translate(79.8 626.5) scale(1 1.100)" text-anchor="end">10</text><text transform="translate(79.8 515.2) scale(1 1.100)" text-anchor="end">20</text><text transform="translate(79.8 403.9) scale(1 1.100)" text-anchor="end">30</text><text transform="translate(79.8 292.6) scale(1 1.100)" text-anchor="end">40</text><text transform="translate(79.8 181.4) scale(1 1.100)" text-anchor="end">50</text><text transform="translate(79.8 70.1) scale(1 1.100)" text-anchor="end">60</text></g>
<rect x="129.5" y="35.5" width="362" height="89" fill="#fff" stroke="#000" stroke-width="1.2"/>
<rect x="169.3" y="56.4" width="4.9" height="5.2" fill="#000"/>
<circle cx="171.9" cy="101.3" r="2.7" fill="#f00"/>
<g font-size="33.9" fill="#000"><text transform="translate(219 70.6) scale(1 1.05)">26.5 cm channel</text><text transform="translate(219 112.2) scale(1 1.05)">19.75 cm channel</text></g>
<text transform="translate(545.8 825.8) scale(1 1.04)" font-size="37.6" text-anchor="middle">Frequency (Hz)</text>
<text transform="translate(30.4 366) rotate(-90) scale(1 1.04)" font-size="37.6" text-anchor="middle">Amplitude (mV)</text>
</svg>
</body></html>
